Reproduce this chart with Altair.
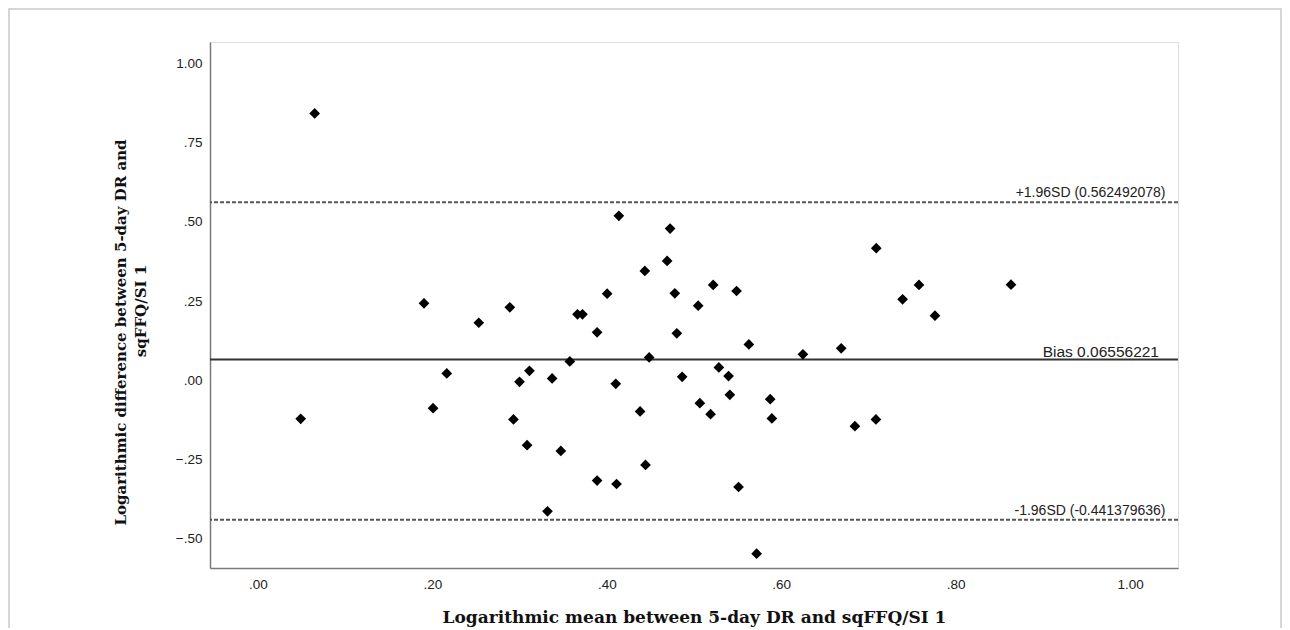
import altair as alt
import pandas as pd

# Bland-Altman data
x_mean = [0.1904, 0.2008, 0.2165, 0.2532, 0.2888, 0.2930, 0.2999, 0.3113, 0.3086, 0.3373,
          0.3320, 0.3473, 0.3576, 0.3664, 0.3721, 0.3889, 0.3889, 0.4004, 0.4138, 0.4103,
          0.4112, 0.4436, 0.4382, 0.4444, 0.4486, 0.4692, 0.4726, 0.4780, 0.4803, 0.4864,
          0.5048, 0.5067, 0.5190, 0.5220, 0.5285, 0.5396, 0.5411, 0.5488, 0.5511, 0.5629,
          0.5718, 0.5874, 0.5893, 0.6249, 0.6688, 0.7090, 0.7392, 0.7580, 0.7763, 0.8635,
          0.6845, 0.7086, 0.0650, 0.0490]
y_diff = [0.2429, -0.0887, 0.0212, 0.1814, 0.2302, -0.1244, -0.0054, 0.0294, -0.2058, 0.0054,
          -0.4148, -0.2239, 0.0592, 0.2080, 0.2080, 0.1510, -0.3176, 0.2733, 0.5193, -0.0117,
          -0.3284, 0.3452, -0.0991, -0.2682, 0.0719, 0.3768, 0.4791, 0.2745, 0.1479, 0.0104,
          0.2353, -0.0728, -0.1077, 0.3008, 0.0402, 0.0127, -0.0465, 0.2818, -0.3379, 0.1130,
          -0.5488, -0.0602, -0.1213, 0.0814, 0.1004, 0.4170, 0.2555, 0.3008, 0.2036, 0.3018,
          -0.1457, -0.1244, 0.8433, -0.1225]

bias = 0.06556221
upper = 0.562492078
lower = -0.441379636
ref_labels = ["+1.96SD (0.562492078)", "Bias 0.06556221", "-1.96SD (-0.441379636)"]
ref_values = [upper, bias, lower]

x_ticks = [0.0, 0.2, 0.4, 0.6, 0.8, 1.0]
y_ticks = [-0.5, -0.25, 0.0, 0.25, 0.5, 0.75, 1.0]

x_title = "Logarithmic mean between 5-day DR and sqFFQ/SI 1"
y_title_1 = "Logarithmic difference between 5-day DR and"
y_title_2 = "sqFFQ/SI 1"

W, H = 968, 526
PAD_L, PAD_T, PAD_R, PAD_B = 202, 34, 104, 60

pts = pd.DataFrame({"x": x_mean, "y": y_diff})
refs = pd.DataFrame({"v": ref_values, "label": ref_labels,
                     "kind": ["limit", "bias", "limit"],
                     "xr": [955.5, 949.0, 955.5]})
bias_df = refs[refs.kind == "bias"]
limit_df = refs[refs.kind == "limit"]

label_expr = "replace(format(datum.value, '.2f'), '0.', '.')"
sans = "Liberation Sans"
serif = "DejaVu Serif"

xscale = alt.Scale(domain=[-0.055, 1.055], nice=False, zero=False)
yscale = alt.Scale(domain=[-0.594, 1.069], nice=False, zero=False)

points = alt.Chart(pts).mark_point(
    shape="diamond", filled=True, color="black", size=115, opacity=1
).encode(
    x=alt.X("x:Q", scale=xscale,
            axis=alt.Axis(values=x_ticks, labelExpr=label_expr, title=x_title,
                          ticks=False, grid=False, domainColor="#7a7a7a", domainWidth=1.5,
                          labelFont=sans, labelFontSize=13.5, labelColor="#222222",
                          labelPadding=9, titleFont=serif, titleFontSize=17,
                          titleFontWeight="bold", titleColor="#111111",
                          titleX=W / 2, titleY=54, titleBaseline="alphabetic")),
    y=alt.Y("y:Q", scale=yscale,
            axis=alt.Axis(values=y_ticks, labelExpr=label_expr, title=y_title_1,
                          ticks=False, grid=False, domainColor="#7a7a7a", domainWidth=1.5,
                          labelFont=sans, labelFontSize=13.5, labelColor="#222222",
                          labelPadding=8, titleFont=serif, titleFontSize=15,
                          titleFontWeight="bold", titleColor="#111111",
                          titleAngle=270, titleX=-85, titleY=290,
                          titleAlign="center", titleBaseline="alphabetic")),
)

bias_rule = alt.Chart(bias_df).mark_rule(
    color="#333333", strokeWidth=2
).encode(y=alt.Y("v:Q", scale=yscale))

limit_rule = alt.Chart(limit_df).mark_rule(
    color="#555555", strokeWidth=2, strokeDash=[4, 2]
).encode(y=alt.Y("v:Q", scale=yscale))

limit_text = alt.Chart(limit_df).mark_text(
    align="right", baseline="alphabetic", dy=-5, font=sans, fontSize=14, color="#222222"
).encode(y=alt.Y("v:Q", scale=yscale), x=alt.X("xr:Q", scale=None), text="label:N")

bias_text = alt.Chart(bias_df).mark_text(
    align="right", baseline="alphabetic", dy=-2.5, font=sans, fontSize=15.5, color="#222222"
).encode(y=alt.Y("v:Q", scale=yscale), x=alt.X("xr:Q", scale=None), text="label:N")

y2_text = alt.Chart(pd.DataFrame({"t": [y_title_2]})).mark_text(
    angle=270, align="center", baseline="alphabetic", font=serif, fontSize=15,
    fontWeight="bold", color="#111111"
).encode(text="t:N", x=alt.value(-64), y=alt.value(269))

frame = alt.Chart(pd.DataFrame({"a": [0]})).mark_rect(
    fill=None, stroke="#c9c9c9", strokeWidth=1.5, clip=False
).encode(x=alt.value(-PAD_L + 1), x2=alt.value(W + PAD_R - 1),
         y=alt.value(-PAD_T + 1), y2=alt.value(H + PAD_B + 10))

chart = alt.layer(frame, limit_rule, bias_rule, limit_text, bias_text, points, y2_text).properties(
    width=W, height=H,
    autosize=alt.AutoSizeParams(type="none"),
    padding={"left": PAD_L, "top": PAD_T, "right": PAD_R, "bottom": PAD_B},
).configure_view(stroke=None).configure(background="white")

chart.save("out.html", embed_options={"renderer": "svg", "actions": False})
